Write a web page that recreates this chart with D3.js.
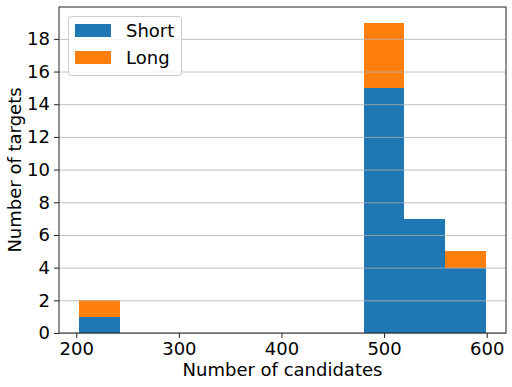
<!DOCTYPE html>
<html><head><meta charset="utf-8">
<script src="https://cdn.jsdelivr.net/npm/d3@7"></script>
<style>body{margin:0;background:#fff}text{font-family:"DejaVu Sans",sans-serif;fill:#000}</style>
</head><body><svg id="c" width="512" height="387"></svg>
<script>
const binEdges = [203, 242.6, 282.2, 321.8, 361.4, 401, 440.6, 480.2, 519.8, 559.4, 599];
const shortCounts = [1, 0, 0, 0, 0, 0, 0, 15, 7, 4];
const longCounts  = [1, 0, 0, 0, 0, 0, 0, 4, 0, 1];
const xTicks = [200, 300, 400, 500, 600];
const yTicks = [0, 2, 4, 6, 8, 10, 12, 14, 16, 18];
const seriesNames = ["Short", "Long"];
const colors = ["#1f77b4", "#ff7f0e"];

const svg = d3.select("#c");
const L = 59, R = 506, T = 7, B = 333;
const span = binEdges[10] - binEdges[0];
const x = d3.scaleLinear().domain([binEdges[0] - 0.05 * span, binEdges[10] + 0.05 * span]).range([L, R]);
const maxTotal = d3.max(shortCounts.map((s, i) => s + longCounts[i]));
const y = d3.scaleLinear().domain([0, maxTotal * 1.05]).range([B, T]);

const bins = shortCounts.map((s, i) => ({x0: binEdges[i], x1: binEdges[i + 1], s, l: longCounts[i]}));
const g = svg.append("g").attr("shape-rendering", "crispEdges");
g.selectAll("rect.s").data(bins.filter(d => d.s > 0)).join("rect")
  .attr("x", d => x(d.x0)).attr("width", d => x(d.x1) - x(d.x0))
  .attr("y", d => y(d.s)).attr("height", d => y(0) - y(d.s)).attr("fill", colors[0]);
g.selectAll("rect.l").data(bins.filter(d => d.l > 0)).join("rect")
  .attr("x", d => x(d.x0)).attr("width", d => x(d.x1) - x(d.x0))
  .attr("y", d => y(d.s + d.l)).attr("height", d => y(d.s) - y(d.s + d.l)).attr("fill", colors[1]);

// grid on top
svg.append("g").selectAll("line").data(yTicks).join("line")
  .attr("x1", L).attr("x2", R).attr("y1", d => y(d) + 0.5).attr("y2", d => y(d) + 0.5)
  .attr("stroke", "#b0b0b0").attr("stroke-width", 0.8);

// frame
svg.append("rect").attr("x", L).attr("y", T).attr("width", R - L).attr("height", B - T)
  .attr("fill", "none").attr("stroke", "#222").attr("stroke-width", 1);

const xa = svg.append("g").attr("transform", `translate(0,${B})`)
  .call(d3.axisBottom(x).tickValues(xTicks).tickSize(5).tickPadding(4));
const ya = svg.append("g").attr("transform", `translate(${L},0)`)
  .call(d3.axisLeft(y).tickValues(yTicks).tickSize(5).tickPadding(4));
[xa, ya].forEach(a => {
  a.select(".domain").remove();
  a.selectAll("text").attr("font-size", 18).attr("font-family", "DejaVu Sans").attr("fill", "#000");
  a.selectAll("line").attr("stroke", "#222");
});

svg.append("text").attr("x", (L + R) / 2).attr("y", 376).attr("text-anchor", "middle")
  .attr("font-size", 18).text("Number of candidates");
svg.append("text").attr("transform", `translate(21,${(T + B) / 2}) rotate(-90)`)
  .attr("text-anchor", "middle").attr("font-size", 18).text("Number of targets");

// legend
const lg = svg.append("g");
lg.append("rect").attr("x", 68.5).attr("y", 16.5).attr("width", 113).attr("height", 59).attr("rx", 3)
  .attr("fill", "#fff").attr("fill-opacity", 0.8).attr("stroke", "#ccc");
seriesNames.forEach((n, i) => {
  lg.append("rect").attr("x", 75).attr("y", 24 + i * 27).attr("width", 36).attr("height", 13).attr("fill", colors[i]);
  lg.append("text").attr("x", 126).attr("y", 37 + i * 27).attr("font-size", 18).text(n);
});
</script></body></html>
